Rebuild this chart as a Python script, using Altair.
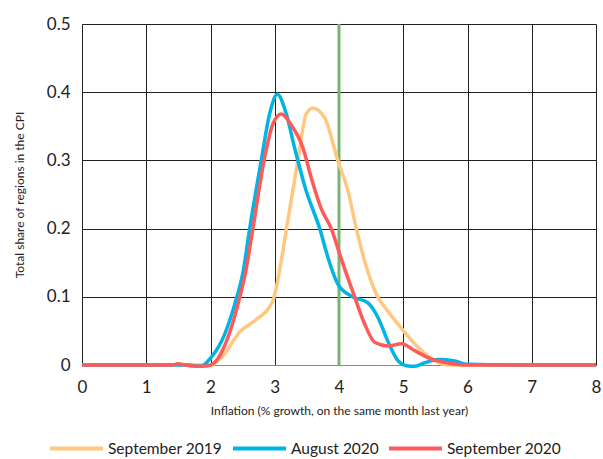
import altair as alt
import pandas as pd

series_names = ["September 2019", "August 2020", "September 2020"]
series_colors = ["#FFC77F", "#00B4E4", "#FF5A5A"]

sep19_x = [0, 1, 2.0, 2.16, 2.47, 2.69, 2.97, 3.1, 3.2, 3.36, 3.49, 3.59, 3.78, 3.98, 4.14, 4.27, 4.4, 4.58, 4.76, 4.97, 5.18, 5.43, 5.7, 6, 7, 8]
sep19_y = [0, 0, 0, 0.01, 0.05, 0.065, 0.094, 0.152, 0.21, 0.30, 0.368, 0.377, 0.362, 0.30, 0.255, 0.20, 0.152, 0.104, 0.079, 0.054, 0.031, 0.01, 0.0, 0, 0, 0]

aug20_x = [0, 1, 1.5, 1.65, 1.85, 2.0, 2.22, 2.38, 2.51, 2.61, 2.79, 2.92, 3.04, 3.18, 3.31, 3.49, 3.7, 3.83, 3.98, 4.19, 4.45, 4.61, 4.76, 4.92, 5.05, 5.18, 5.33, 5.54, 5.8, 6.0, 7, 8]
aug20_y = [0, 0, 0, 0, -0.002, 0.01, 0.045, 0.09, 0.138, 0.2, 0.30, 0.368, 0.397, 0.368, 0.318, 0.255, 0.2, 0.157, 0.119, 0.101, 0.091, 0.069, 0.035, 0.006, -0.001, -0.002, 0.003, 0.008, 0.006, 0.001, 0, 0]

sep20_x = [0, 1, 1.4, 1.5, 1.6, 1.8, 1.96, 2.12, 2.27, 2.43, 2.55, 2.66, 2.84, 2.97, 3.1, 3.25, 3.44, 3.57, 3.72, 3.88, 4.03, 4.25, 4.4, 4.56, 4.76, 4.97, 5.18, 5.43, 5.7, 6, 7, 8]
sep20_y = [0, 0, 0, 0.002, 0, -0.002, -0.001, 0.01, 0.04, 0.09, 0.138, 0.2, 0.303, 0.353, 0.368, 0.353, 0.318, 0.274, 0.23, 0.2, 0.157, 0.098, 0.06, 0.033, 0.028, 0.031, 0.021, 0.009, 0.003, 0, 0, 0]

target_x = [4]

rows = []
for name, xs, ys in [(series_names[0], sep19_x, sep19_y),
                     (series_names[1], aug20_x, aug20_y),
                     (series_names[2], sep20_x, sep20_y)]:
    for i, (xv, yv) in enumerate(zip(xs, ys)):
        rows.append({"series": name, "x": xv, "y": yv, "idx": i})
df = pd.DataFrame(rows)
df_rule = pd.DataFrame({"x": target_x})

FONT = "Lato"

x_enc = alt.X("x:Q", scale=alt.Scale(domain=[0, 8], nice=False, zero=False),
              axis=alt.Axis(values=list(range(0, 9)), format="d", labelFlush=False,
                            title="Inflation (% growth, on the same month last year)",
                            labelFontSize=17, titleFontSize=12, labelPadding=14, tickSize=0,
                            titlePadding=10, titleFontWeight="normal", domainColor="#888888",
                            gridColor="#222222", gridOpacity=1, titleColor="#222222", labelColor="#222222"))
y_enc = alt.Y("y:Q", scale=alt.Scale(domain=[0, 0.5], nice=False),
              axis=alt.Axis(values=[0, 0.1, 0.2, 0.3, 0.4, 0.5], format=".1~f",
                            title="Total share of regions in the CPI",
                            labelFontSize=17, titleFontSize=12, labelPadding=12, tickSize=0,
                            titlePadding=20, titleFontWeight="normal", domainColor="#222222",
                            gridColor="#222222", gridOpacity=1, titleColor="#222222", labelColor="#222222"))

lines = alt.Chart(df).mark_line(strokeWidth=3.5, interpolate="monotone", clip=False).encode(
    x=x_enc,
    y=y_enc,
    order="idx:Q",
    detail="series:N",
    color=alt.Color("series:N",
                    scale=alt.Scale(domain=series_names, range=series_colors),
                    sort=series_names,
                    legend=alt.Legend(title=None, orient="none", direction="horizontal",
                                      legendX=-34, legendY=396,
                                      symbolType="stroke", symbolSize=2809, symbolStrokeWidth=4,
                                      labelFontSize=15.5, labelOffset=3, columnPadding=2,
                                      labelColor="#222222", labelFont=FONT)),
)

rule = alt.Chart(df_rule).mark_rule(color="#78B572", strokeWidth=3).encode(
    x=alt.X("x:Q", scale=alt.Scale(domain=[0, 8]))
)

chart = alt.layer(rule, lines).properties(
    width=514, height=341,
    padding={"left": 13, "top": 15, "right": 0, "bottom": 5},
).configure_view(stroke=None).configure(font=FONT)

chart.save("out.html", embed_options={"renderer": "svg", "actions": False})
